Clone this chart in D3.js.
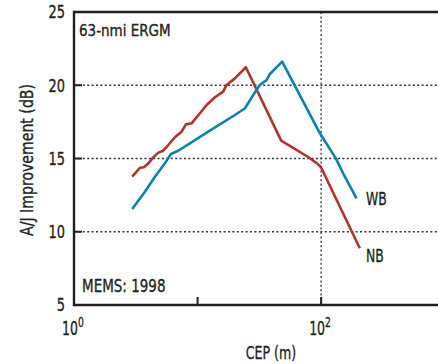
<!DOCTYPE html>
<html><head><meta charset="utf-8">
<script src="https://cdn.jsdelivr.net/npm/d3@7"></script>
<style>
html,body{margin:0;padding:0;background:#fff;}
svg{display:block;}
text{font-family:"DejaVu Sans",sans-serif;fill:#231f20;stroke:#231f20;stroke-width:0.35px;}
</style></head>
<body><div id="chart"></div>
<script>
const nbX = [2.96,3.42,3.68,3.95,4.38,4.81,5.22,5.79,6.56,7.43,8.05,8.95,10.45,11.84,13.81,16.12,17.18,20.05,24.6,47.5,78.0,94.0,99.5,205.6];
const nbY = [13.76,14.37,14.40,14.62,15.08,15.40,15.51,15.92,16.45,16.83,17.33,17.40,18.09,18.65,19.18,19.56,20.02,20.47,21.23,16.22,15.12,14.62,14.42,8.87];
const wbX = [2.96,3.75,4.52,5.44,6.09,6.98,12.2,20.05,24.2,28.2,31.9,36.2,38.5,48.4,97.7,131.5,150.6,193.3];
const wbY = [11.55,12.73,13.76,14.67,15.31,15.53,16.83,17.97,18.43,19.33,20.02,20.36,20.77,21.61,16.72,15.01,13.99,12.28];
const yTicks = [5,10,15,20,25];
const yGrid = [10,15,20];
const xTickVals = [1,10,100];
const xLabelVals = [1,100];
const xGrid = [100];

const W = 438, H = 364;
const m = {left:74, top:12, bottom:305, right:444.7};
const svg = d3.select("#chart").append("svg").attr("width",W).attr("height",H);
const x = d3.scaleLog().domain([1,1000]).range([m.left,m.right]);
const y = d3.scaleLinear().domain([5,25]).range([m.bottom,m.top]);

function txt(px, py, s, size, sx, anchor, rot){
  const g = svg.append("g").attr("transform",`translate(${px},${py}) rotate(${rot||0}) scale(${sx},1)`);
  return g.append("text").attr("font-size",size).attr("text-anchor",anchor||"start").text(s);
}

svg.selectAll(".hg").data(yGrid).enter().append("line")
  .attr("x1",m.left).attr("x2",W).attr("y1",d=>y(d)).attr("y2",d=>y(d))
  .attr("stroke","#333").attr("stroke-width",1.3).attr("stroke-dasharray","2,2.4");
svg.selectAll(".vg").data(xGrid).enter().append("line")
  .attr("x1",d=>x(d)).attr("x2",d=>x(d)).attr("y1",m.top).attr("y2",m.bottom)
  .attr("stroke","#333").attr("stroke-width",1.3).attr("stroke-dasharray","2,2.4");

svg.selectAll(".yt").data(yTicks.filter(d=>d>5&&d<25)).enter().append("line")
  .attr("x1",m.left).attr("x2",m.left+8).attr("y1",d=>y(d)).attr("y2",d=>y(d))
  .attr("stroke","#231f20").attr("stroke-width",2);
svg.selectAll(".xt").data(xTickVals.filter(d=>d>1)).enter().append("line")
  .attr("x1",d=>x(d)).attr("x2",d=>x(d)).attr("y1",m.bottom).attr("y2",m.bottom-8)
  .attr("stroke","#231f20").attr("stroke-width",2);

svg.append("line").attr("x1",m.left).attr("x2",W).attr("y1",m.top).attr("y2",m.top).attr("stroke","#231f20").attr("stroke-width",2.4);
svg.append("line").attr("x1",m.left).attr("x2",W).attr("y1",m.bottom).attr("y2",m.bottom).attr("stroke","#231f20").attr("stroke-width",2.4);
svg.append("line").attr("x1",m.left).attr("x2",m.left).attr("y1",m.top-1.2).attr("y2",m.bottom+1.2).attr("stroke","#231f20").attr("stroke-width",2.4);

yTicks.forEach(d=>{ txt(m.left-9, y(d), d, 18, 0.72, "end").attr("dy","0.36em"); });
xLabelVals.forEach(d=>{
  const t = txt(x(d)-12, 335, "", 19, 0.66, "start");
  t.append("tspan").text("10");
  t.append("tspan").attr("dy",-8).attr("font-size",14).text(Math.round(Math.log10(d)));
});

txt(271, 359, "CEP (m)", 18, 0.70, "middle");
txt(33, 160, "A/J Improvement (dB)", 17, 0.83, "middle", -90);

txt(79, 36, "63-nmi ERGM", 15.5, 0.87, "start");
txt(82, 292, "MEMS: 1998", 18, 0.75, "start");

const line = d3.line().x(d=>x(d[0])).y(d=>y(d[1]));
const nb = nbX.map((v,i)=>[v,nbY[i]]);
const wb = wbX.map((v,i)=>[v,wbY[i]]);
svg.append("path").attr("d",line(nb)).attr("fill","none").attr("stroke","#b5312b").attr("stroke-width",2.6).attr("stroke-linejoin","round");
svg.append("path").attr("d",line(wb)).attr("fill","none").attr("stroke","#0b80b2").attr("stroke-width",2.6).attr("stroke-linejoin","round");

txt(366, 205, "WB", 18, 0.69, "start");
txt(366, 261.5, "NB", 18, 0.69, "start");
</script></body></html>
